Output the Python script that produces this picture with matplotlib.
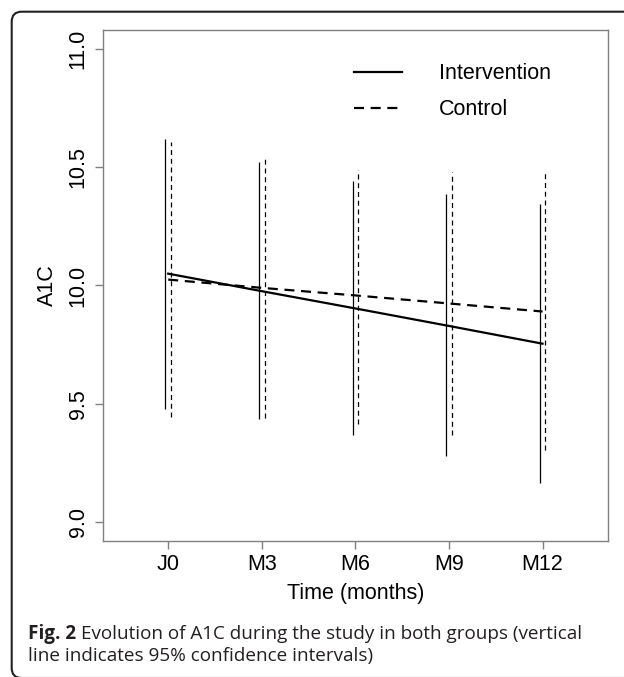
import numpy as np
import matplotlib
matplotlib.use("Agg")
import matplotlib.pyplot as plt
from matplotlib.patches import FancyBboxPatch

# Données
mois = ["J0", "M3", "M6", "M9", "M12"]
interv_moy = [10.05, 9.976, 9.903, 9.829, 9.754]
interv_bas = [9.48, 9.436, 9.367, 9.28, 9.167]
interv_haut = [10.619, 10.52, 10.44, 10.386, 10.346]
ctrl_moy = [10.025, 9.99, 9.958, 9.924, 9.89]
ctrl_bas = [9.446, 9.44, 9.415, 9.369, 9.305]
ctrl_haut = [10.607, 10.544, 10.49, 10.48, 10.477]
y_ticks = [9.0, 9.5, 10.0, 10.5, 11.0]

plt.rcParams['font.family'] = ['Liberation Sans', 'DejaVu Sans']

fig = plt.figure(figsize=(6.24, 6.77), dpi=100)
ax = fig.add_axes([0.1646, 0.2009, 0.8098, 0.7548])

x = np.arange(1, len(mois) + 1)

# intervalles de confiance (barres verticales)
ax.vlines(x - 0.03, interv_bas, interv_haut, colors="black", lw=0.9)
ax.vlines(x + 0.03, ctrl_bas, ctrl_haut, colors="black", lw=0.9,
          linestyles=[(0, (4, 3))])

# moyennes
ax.plot(x, interv_moy, color="black", lw=1.6, label="Intervention")
ax.plot(x, ctrl_moy, color="black", lw=1.6, ls=(0, (4.5, 3)), label="Control")

ax.set_xlim(0.3, 5.7)
ax.set_ylim(8.92, 11.08)
ax.set_xticks(x)
ax.set_xticklabels(mois)
ax.set_yticks(y_ticks)
ax.set_yticklabels([f"{v:.1f}" for v in y_ticks], rotation=90, va="center")

for s in ax.spines.values():
    s.set_color("#808080")
    s.set_linewidth(1.0)
ax.tick_params(axis="both", colors="#808080", length=5.5, width=1.0,
               labelcolor="black", labelsize=15.5)
ax.tick_params(axis="y", pad=4.5)
ax.tick_params(axis="x", pad=4)

ax.set_xlabel("Time (months)", fontsize=15.5)
ax.set_ylabel("A1C", fontsize=15.5)
ax.xaxis.set_label_coords(0.5, -0.083)
ax.yaxis.set_label_coords(-0.088, 0.5)

ax.legend(loc="upper left", bbox_to_anchor=(0.497, 0.935), frameon=False,
          fontsize=15.5, handlelength=2.23, handletextpad=1.72,
          labelspacing=0.70, borderpad=0, borderaxespad=0)

# cadre arrondi autour de la figure
cadre = FancyBboxPatch((11.7 / 100, -0.01), 6.5, (677 - 11.7) / 100 + 0.01,
                       boxstyle="round,pad=0,rounding_size=0.1",
                       transform=fig.dpi_scale_trans, fill=False,
                       edgecolor="#222222", lw=1.5, clip_on=False)
fig.patches.append(cadre)

# légende de la figure
coul = "#231f20"
H = 677
taille = 13.6
police = ["Open Sans", "DejaVu Sans"]
t1 = fig.text(27.7 / 624, 1 - 639 / H, "Fig. 2", fontsize=taille, fontweight="bold",
              family=police, color=coul, va="baseline")
rend = fig.canvas.get_renderer()
bb = t1.get_window_extent(renderer=rend)
fig.text((bb.x1 + 5) / 624, 1 - 639 / H,
         "Evolution of A1C during the study in both groups (vertical",
         fontsize=taille, family=police, color=coul, va="baseline")
fig.text(27.7 / 624, 1 - 661 / H, "line indicates 95% confidence intervals)",
         fontsize=taille, family=police, color=coul, va="baseline")

fig.savefig("out.png", dpi=100)
